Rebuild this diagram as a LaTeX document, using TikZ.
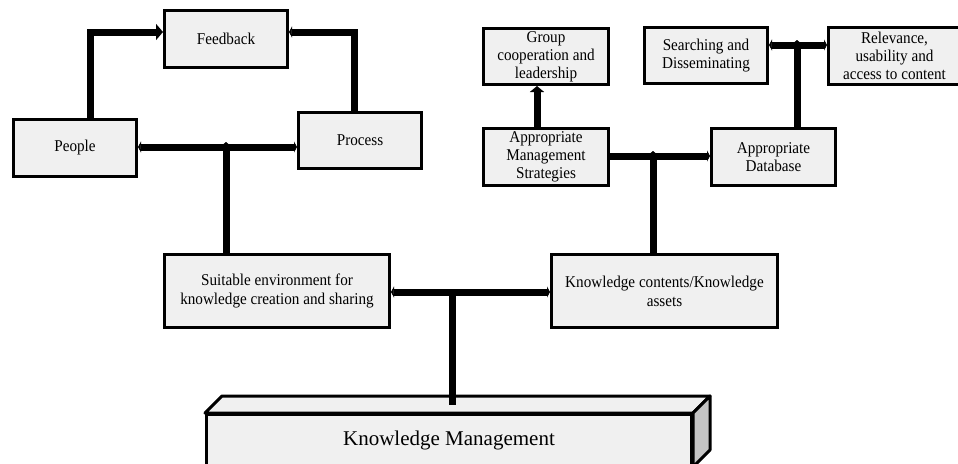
\documentclass[tikz,border=0pt]{standalone}
\usepackage{fontspec}
\setmainfont{Liberation Serif}
\newfontfamily\narrowserif[FakeStretch=0.92]{Liberation Serif}
\usetikzlibrary{arrows.meta}
\definecolor{boxfill}{HTML}{F0F0F0}
\definecolor{sidefill}{HTML}{C4C4C4}
\begin{document}
\begin{tikzpicture}[x=1pt,y=-1pt,
  box/.style={draw=black, line width=3pt, fill=boxfill, align=center, inner sep=0pt,
    font=\narrowserif\fontsize{16.5}{18}\selectfont},
  conn/.style={line width=7pt},
  bumpend/.style={-{Triangle[length=3pt,width=11pt]}},
  bumpboth/.style={{Triangle[length=3pt,width=11pt]}-{Triangle[length=3pt,width=11pt]}},
  tickend/.style={-{Triangle[length=3pt,width=7pt]}}
]
\useasboundingbox (0,0) rectangle (958,463);

% boxes
\node[box, minimum width=123pt, minimum height=57pt] (feedback) at (226,39) {Feedback};
\node[box, minimum width=123pt, minimum height=57pt] (people) at (75,148) {People};
\node[box, minimum width=123pt, minimum height=56pt] (process) at (360,140.5) {Process};
\node[box, minimum width=225pt, minimum height=73pt] (suit) at (277,291) {Suitable environment for\\[1pt]knowledge creation and sharing};
\node[box, minimum width=226pt, minimum height=73pt] (kc) at (664.5,291) {Knowledge contents/Knowledge\\[1pt]assets};
\node[box, minimum width=125pt, minimum height=56pt] (group) at (546,56.5) {Group\\cooperation and\\leadership};
\node[box, minimum width=125pt, minimum height=57pt] (ams) at (546,157) {Appropriate\\Management\\Strategies};
\node[box, minimum width=123pt, minimum height=56pt] (search) at (706,55.5) {Searching and\\Disseminating};
\node[box, minimum width=132pt, minimum height=57pt] (rel) at (894.5,56) {Relevance,\\usability and\\access to content};
\node[box, minimum width=124pt, minimum height=57pt] (ad) at (773.5,157) {Appropriate\\Database};

% 3D knowledge management block
\node[draw=black, line width=3pt, fill=boxfill, inner sep=0pt, minimum width=485pt, minimum height=51pt,
  font=\fontsize{21}{24}\selectfont] (km) at (449,440) {Knowledge Management};
\draw[line width=3pt, fill=boxfill, line join=round] (km.north west) -- ([xshift=17pt,yshift=17pt]km.north west)
  -- ([xshift=17pt,yshift=17pt]km.north east) -- (km.north east) -- cycle;
\draw[line width=3pt, fill=sidefill, line join=round] (km.north east) -- ([xshift=17pt,yshift=17pt]km.north east)
  -- ([xshift=17pt,yshift=17pt]km.south east) -- (km.south east) -- cycle;

% junctions
\coordinate (j1) at (226,147);
\coordinate (j2) at (653,156);
\coordinate (j3) at (797,45);
\coordinate (j4) at (452,292);
\coordinate (kmtop) at (452,405);

% connectors
\draw[conn, -{Triangle[length=7pt,width=16pt]}] ([xshift=15pt]people.north) |- ([yshift=7pt]feedback.west);
\draw[conn, {Triangle[length=3pt,width=11pt]}-] ([yshift=7pt]feedback.east) -| ([xshift=-6pt]process.north);
\draw[conn, bumpboth] (people.east |- j1) -- (process.west |- j1);
\draw[conn, tickend] (suit.north -| j1) -- ([yshift=5pt]j1);

\draw[conn, -{Triangle[length=6pt,width=14pt]}] ([xshift=-9pt]ams.north) -- ([xshift=-9pt]group.south);
\draw[conn, bumpend] (ams.east |- j2) -- (ad.west |- j2);
\draw[conn, tickend] (kc.north -| j2) -- ([yshift=5pt]j2);

\draw[conn, bumpboth] (search.east |- j3) -- (rel.west |- j3);
\draw[conn, tickend] (ad.north -| j3) -- ([yshift=5pt]j3);

\draw[conn, bumpboth] (suit.east |- j4) -- (kc.west |- j4);
\draw[conn] (j4) -- (kmtop);
\end{tikzpicture}
\end{document}
